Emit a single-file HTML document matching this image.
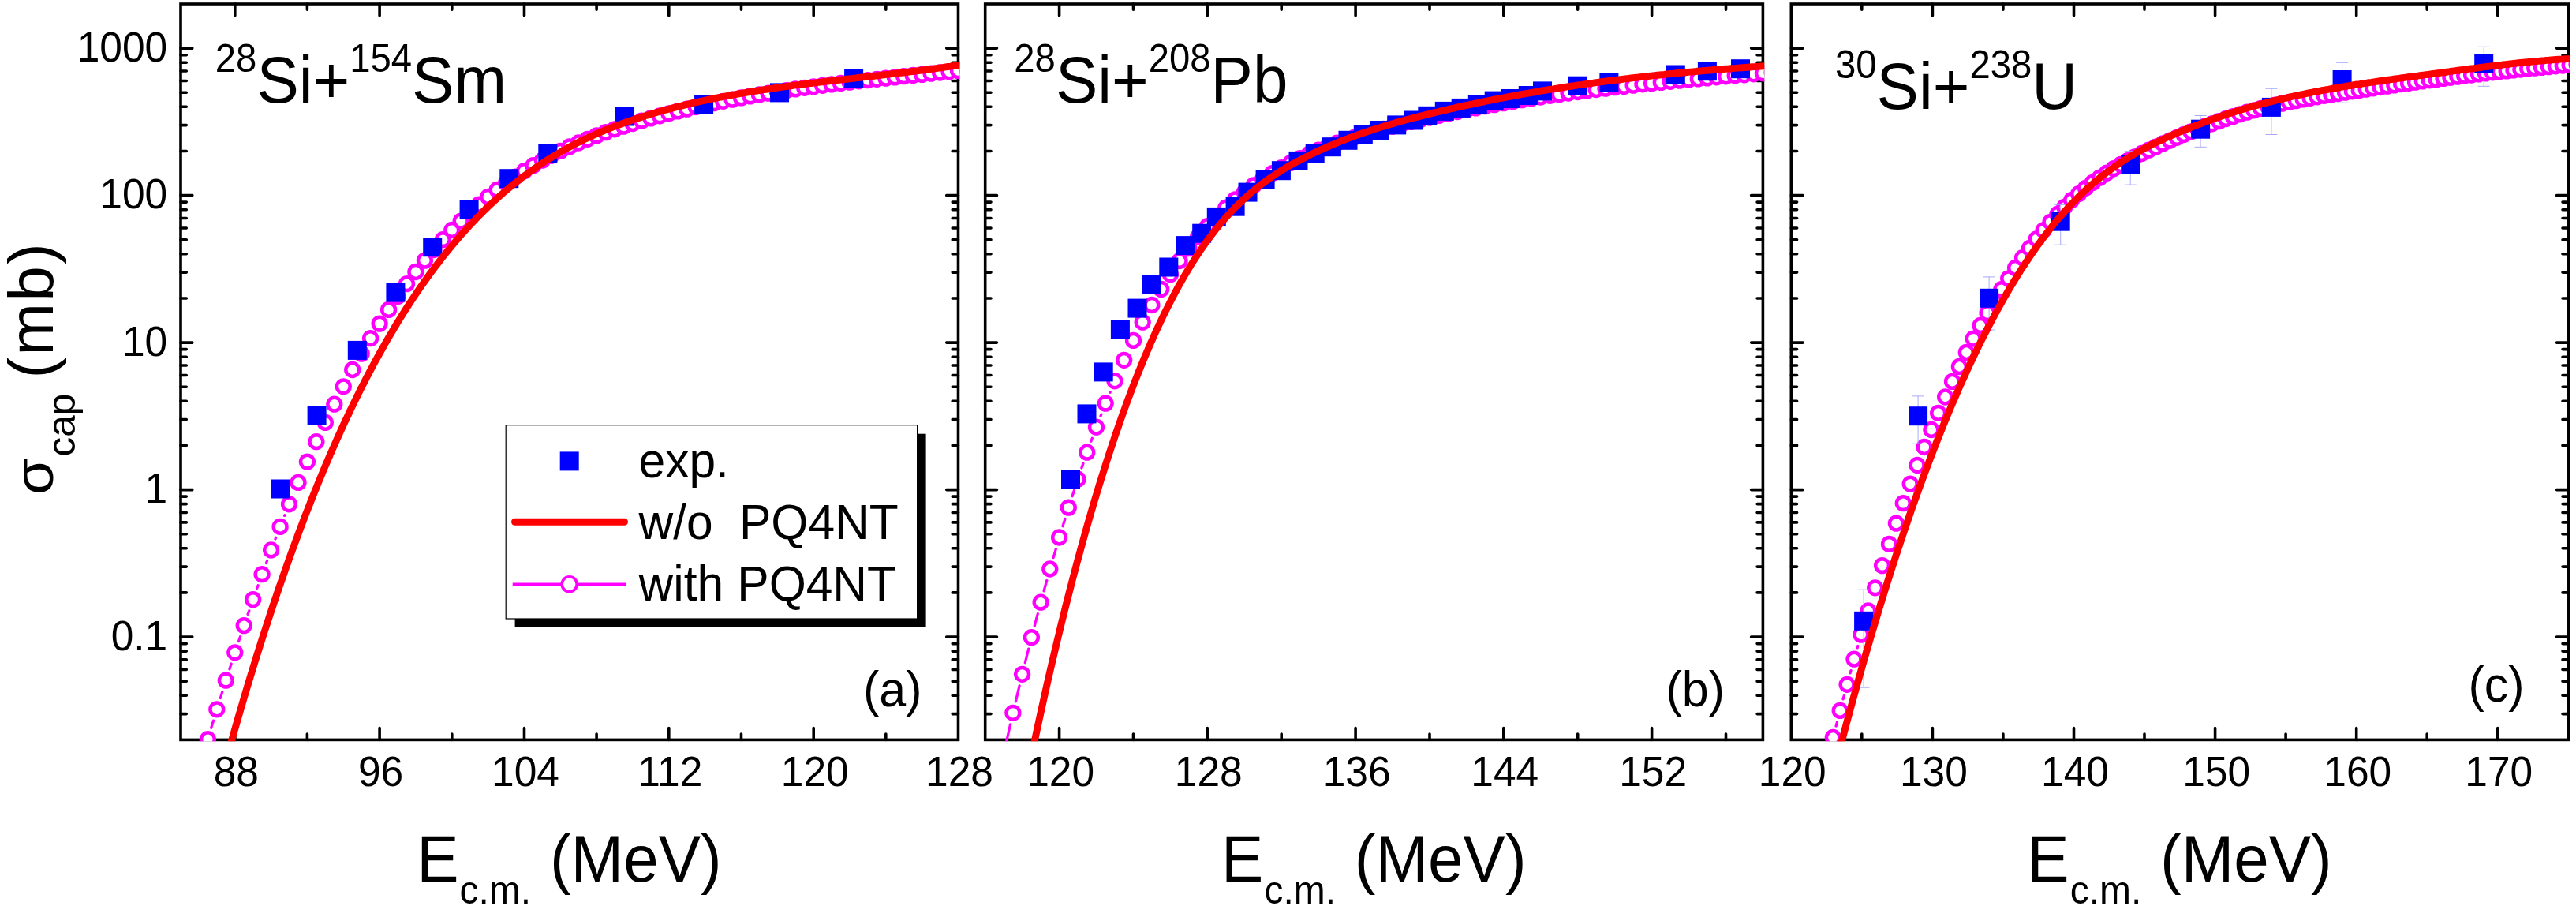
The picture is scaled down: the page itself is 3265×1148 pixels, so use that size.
<!DOCTYPE html>
<html><head><meta charset="utf-8"><title>capture cross sections</title>
<style>html,body{margin:0;padding:0;background:#fff}body{width:3265px;height:1148px;overflow:hidden;font-family:"Liberation Sans",sans-serif}svg{display:block}</style></head>
<body>
<svg width="3265" height="1148" viewBox="0 0 3265 1148" font-family="'Liberation Sans', sans-serif" fill="#000">
<rect width="3265" height="1148" fill="#fff"/>
<defs>
<clipPath id="cla"><rect x="227.2" y="3.2" width="989.1" height="936"/></clipPath>
<clipPath id="clb"><rect x="1246.9" y="3.2" width="989.3" height="936"/></clipPath>
<clipPath id="clc"><rect x="2268.5" y="3.2" width="988.6" height="936"/></clipPath>
</defs>
<path d="M297.8 937.4v-14.8M297.8 5v14.8M481.1 937.4v-14.8M481.1 5v14.8M664.5 937.4v-14.8M664.5 5v14.8M847.8 937.4v-14.8M847.8 5v14.8M1031.2 937.4v-14.8M1031.2 5v14.8M389.4 937.4v-7.3M389.4 5v7.3M572.8 937.4v-7.3M572.8 5v7.3M756.1 937.4v-7.3M756.1 5v7.3M939.5 937.4v-7.3M939.5 5v7.3M1122.8 937.4v-7.3M1122.8 5v7.3M229 904.6h7.3M1214.5 904.6h-7.3M229 881.3h7.3M1214.5 881.3h-7.3M229 863.2h7.3M1214.5 863.2h-7.3M229 848.4h7.3M1214.5 848.4h-7.3M229 835.9h7.3M1214.5 835.9h-7.3M229 825.1h7.3M1214.5 825.1h-7.3M229 815.6h7.3M1214.5 815.6h-7.3M229 807.1h14.8M1214.5 807.1h-14.8M229 750.9h7.3M1214.5 750.9h-7.3M229 718.1h7.3M1214.5 718.1h-7.3M229 694.8h7.3M1214.5 694.8h-7.3M229 676.7h7.3M1214.5 676.7h-7.3M229 661.9h7.3M1214.5 661.9h-7.3M229 649.5h7.3M1214.5 649.5h-7.3M229 638.6h7.3M1214.5 638.6h-7.3M229 629.1h7.3M1214.5 629.1h-7.3M229 620.6h14.8M1214.5 620.6h-14.8M229 564.4h7.3M1214.5 564.4h-7.3M229 531.6h7.3M1214.5 531.6h-7.3M229 508.3h7.3M1214.5 508.3h-7.3M229 490.2h7.3M1214.5 490.2h-7.3M229 475.5h7.3M1214.5 475.5h-7.3M229 463h7.3M1214.5 463h-7.3M229 452.2h7.3M1214.5 452.2h-7.3M229 442.6h7.3M1214.5 442.6h-7.3M229 434.1h14.8M1214.5 434.1h-14.8M229 378h7.3M1214.5 378h-7.3M229 345.1h7.3M1214.5 345.1h-7.3M229 321.8h7.3M1214.5 321.8h-7.3M229 303.8h7.3M1214.5 303.8h-7.3M229 289h7.3M1214.5 289h-7.3M229 276.5h7.3M1214.5 276.5h-7.3M229 265.7h7.3M1214.5 265.7h-7.3M229 256.1h7.3M1214.5 256.1h-7.3M229 247.6h14.8M1214.5 247.6h-14.8M229 191.5h7.3M1214.5 191.5h-7.3M229 158.6h7.3M1214.5 158.6h-7.3M229 135.3h7.3M1214.5 135.3h-7.3M229 117.3h7.3M1214.5 117.3h-7.3M229 102.5h7.3M1214.5 102.5h-7.3M229 90h7.3M1214.5 90h-7.3M229 79.2h7.3M1214.5 79.2h-7.3M229 69.7h7.3M1214.5 69.7h-7.3M229 61.1h14.8M1214.5 61.1h-14.8" stroke="#000" stroke-width="3.6" stroke-linecap="round" fill="none"/>
<rect x="229" y="5" width="985.5" height="932.4" fill="none" stroke="#000" stroke-width="3.6"/>
<g clip-path="url(#cla)">
<path d="M267.7 922.3L270.5 913.2M279.3 884.5L281.8 876.5M290.9 847.9L293.1 841.1M302.5 812.6L304.5 806.8M314.1 778.4L315.8 773.7M325.7 745.4L327.1 741.8M337.4 713.6L338.4 711M349 683L349.6 681.3M360.6 653.4L360.9 652.8" stroke="#f0f" stroke-width="3.3" stroke-linecap="round" fill="none"/>
<g fill="#fff" stroke="#f0f" stroke-width="4.5">
<circle cx="263.4" cy="936.7" r="8.4"/>
<circle cx="274.8" cy="898.8" r="8.4"/>
<circle cx="286.3" cy="862.2" r="8.4"/>
<circle cx="297.8" cy="826.8" r="8.4"/>
<circle cx="309.2" cy="792.6" r="8.4"/>
<circle cx="320.7" cy="759.6" r="8.4"/>
<circle cx="332.1" cy="727.7" r="8.4"/>
<circle cx="343.6" cy="697" r="8.4"/>
<circle cx="355.1" cy="667.4" r="8.4"/>
<circle cx="366.5" cy="638.8" r="8.4"/>
<circle cx="378" cy="611.4" r="8.4"/>
<circle cx="389.4" cy="585.1" r="8.4"/>
<circle cx="400.9" cy="559.7" r="8.4"/>
<circle cx="412.3" cy="535.4" r="8.4"/>
<circle cx="423.8" cy="512.2" r="8.4"/>
<circle cx="435.3" cy="489.8" r="8.4"/>
<circle cx="446.7" cy="468.5" r="8.4"/>
<circle cx="458.2" cy="448.1" r="8.4"/>
<circle cx="469.6" cy="428.6" r="8.4"/>
<circle cx="481.1" cy="410.1" r="8.4"/>
<circle cx="492.6" cy="392.4" r="8.4"/>
<circle cx="504" cy="375.6" r="8.4"/>
<circle cx="515.5" cy="359.6" r="8.4"/>
<circle cx="526.9" cy="344.5" r="8.4"/>
<circle cx="538.4" cy="330.1" r="8.4"/>
<circle cx="549.9" cy="316.5" r="8.4"/>
<circle cx="561.3" cy="303.7" r="8.4"/>
<circle cx="572.8" cy="291.5" r="8.4"/>
<circle cx="584.2" cy="280.1" r="8.4"/>
<circle cx="595.7" cy="269.2" r="8.4"/>
<circle cx="607.2" cy="259.1" r="8.4"/>
<circle cx="618.6" cy="249.5" r="8.4"/>
<circle cx="630.1" cy="240.5" r="8.4"/>
<circle cx="641.5" cy="232" r="8.4"/>
<circle cx="653" cy="224.1" r="8.4"/>
<circle cx="664.5" cy="216.7" r="8.4"/>
<circle cx="675.9" cy="209.7" r="8.4"/>
<circle cx="687.4" cy="203.2" r="8.4"/>
<circle cx="698.8" cy="197.1" r="8.4"/>
<circle cx="710.3" cy="191.4" r="8.4"/>
<circle cx="721.8" cy="186" r="8.4"/>
<circle cx="733.2" cy="181" r="8.4"/>
<circle cx="744.7" cy="176.3" r="8.4"/>
<circle cx="756.1" cy="171.9" r="8.4"/>
<circle cx="767.6" cy="167.7" r="8.4"/>
<circle cx="779" cy="163.8" r="8.4"/>
<circle cx="790.5" cy="160.1" r="8.4"/>
<circle cx="802" cy="156.5" r="8.4"/>
<circle cx="813.4" cy="153.1" r="8.4"/>
<circle cx="824.9" cy="149.9" r="8.4"/>
<circle cx="836.3" cy="146.8" r="8.4"/>
<circle cx="847.8" cy="143.8" r="8.4"/>
<circle cx="859.3" cy="140.9" r="8.4"/>
<circle cx="870.7" cy="138.2" r="8.4"/>
<circle cx="882.2" cy="135.5" r="8.4"/>
<circle cx="893.6" cy="133" r="8.4"/>
<circle cx="905.1" cy="130.6" r="8.4"/>
<circle cx="916.6" cy="128.3" r="8.4"/>
<circle cx="928" cy="126.1" r="8.4"/>
<circle cx="939.5" cy="123.9" r="8.4"/>
<circle cx="950.9" cy="121.9" r="8.4"/>
<circle cx="962.4" cy="120" r="8.4"/>
<circle cx="973.9" cy="118.1" r="8.4"/>
<circle cx="985.3" cy="116.3" r="8.4"/>
<circle cx="996.8" cy="114.6" r="8.4"/>
<circle cx="1008.2" cy="112.9" r="8.4"/>
<circle cx="1019.7" cy="111.3" r="8.4"/>
<circle cx="1031.2" cy="109.8" r="8.4"/>
<circle cx="1042.6" cy="108.3" r="8.4"/>
<circle cx="1054.1" cy="106.9" r="8.4"/>
<circle cx="1065.5" cy="105.5" r="8.4"/>
<circle cx="1077" cy="104.1" r="8.4"/>
<circle cx="1088.4" cy="102.8" r="8.4"/>
<circle cx="1099.9" cy="101.6" r="8.4"/>
<circle cx="1111.4" cy="100.3" r="8.4"/>
<circle cx="1122.8" cy="99.1" r="8.4"/>
<circle cx="1134.3" cy="97.9" r="8.4"/>
<circle cx="1145.7" cy="96.7" r="8.4"/>
<circle cx="1157.2" cy="95.5" r="8.4"/>
<circle cx="1168.7" cy="94.4" r="8.4"/>
<circle cx="1180.1" cy="93.2" r="8.4"/>
<circle cx="1191.6" cy="92" r="8.4"/>
<circle cx="1203" cy="90.8" r="8.4"/>
<circle cx="1214.5" cy="89.6" r="8.4"/>
<circle cx="1226" cy="88.4" r="8.4"/>
<circle cx="1237.4" cy="87.2" r="8.4"/>
</g>
<g fill="#00f">
<rect x="343.1" y="607.5" width="24" height="24"/>
<rect x="389.6" y="514.9" width="24" height="24"/>
<rect x="440.8" y="431.9" width="24" height="24"/>
<rect x="489.4" y="358.6" width="24" height="24"/>
<rect x="536.2" y="301.2" width="24" height="24"/>
<rect x="582.6" y="253.1" width="24" height="24"/>
<rect x="633.3" y="214.2" width="24" height="24"/>
<rect x="682.3" y="182" width="24" height="24"/>
<rect x="779.4" y="135.5" width="24" height="24"/>
<rect x="880.1" y="120.6" width="24" height="24"/>
<rect x="976" y="105.4" width="24" height="24"/>
<rect x="1070.1" y="88" width="24" height="24"/>
</g>
<polyline points="286.8,962.8 289.8,952 292.8,941.3 295.8,930.7 298.8,920.2 301.8,909.7 304.8,899.4 307.8,889.2 310.8,879.1 313.8,869 316.8,859.1 319.8,849.3 322.8,839.5 325.8,829.9 328.8,820.4 331.8,810.9 334.8,801.5 337.8,792.3 340.8,783.1 343.8,774 346.8,765 349.8,756.1 352.8,747.3 355.8,738.6 358.8,730 361.8,721.4 364.8,713 367.8,704.6 370.8,696.3 373.8,688.2 376.8,680.1 379.8,672 382.8,664.1 385.8,656.2 388.8,648.5 391.8,640.8 394.8,633.2 397.8,625.7 400.8,618.3 403.8,610.9 406.8,603.6 409.8,596.4 412.8,589.3 415.8,582.3 418.8,575.3 421.8,568.5 424.8,561.7 427.8,554.9 430.8,548.3 433.8,541.7 436.8,535.2 439.8,528.8 442.8,522.5 445.8,516.2 448.8,510 451.8,503.9 454.8,497.8 457.8,491.8 460.8,485.9 463.8,480.1 466.8,474.3 469.8,468.6 472.8,463 475.8,457.4 478.8,452 481.8,446.5 484.8,441.2 487.8,435.9 490.8,430.6 493.8,425.5 496.8,420.4 499.8,415.4 502.8,410.4 505.8,405.5 508.8,400.6 511.8,395.9 514.8,391.1 517.8,386.5 520.8,381.9 523.8,377.4 526.8,372.9 529.8,368.5 532.8,364.1 535.8,359.8 538.8,355.6 541.8,351.4 544.8,347.2 547.8,343.2 550.8,339.1 553.8,335.2 556.8,331.3 559.8,327.4 562.8,323.6 565.8,319.8 568.8,316.1 571.8,312.5 574.8,308.9 577.8,305.4 580.8,301.9 583.8,298.4 586.8,295 589.8,291.7 592.8,288.4 595.8,285.1 598.8,281.9 601.8,278.8 604.8,275.7 607.8,272.6 610.8,269.6 613.8,266.6 616.8,263.7 619.8,260.8 622.8,258 625.8,255.2 628.8,252.4 631.8,249.7 634.8,247.1 637.8,244.5 640.8,241.9 643.8,239.3 646.8,236.8 649.8,234.4 652.8,232 655.8,229.6 658.8,227.3 661.8,224.9 664.8,222.7 667.8,220.5 670.8,218.3 673.8,216.1 676.8,214 679.8,211.9 682.8,209.9 685.8,207.9 688.8,205.9 691.8,203.9 694.8,202 697.8,200.2 700.8,198.3 703.8,196.5 706.8,194.7 709.8,193 712.8,191.2 715.8,189.6 718.8,187.9 721.8,186.3 724.8,184.7 727.8,183.1 730.8,181.5 733.8,180 736.8,178.5 739.8,177.1 742.8,175.6 745.8,174.2 748.8,172.8 751.8,171.5 754.8,170.1 757.8,168.8 760.8,167.5 763.8,166.3 766.8,165 769.8,163.8 772.8,162.6 775.8,161.4 778.8,160.2 781.8,159.1 784.8,158 787.8,156.9 790.8,155.8 793.8,154.7 796.8,153.7 799.8,152.6 802.8,151.6 805.8,150.6 808.8,149.7 811.8,148.7 814.8,147.7 817.8,146.8 820.8,145.9 823.8,145 826.8,144.1 829.8,143.2 832.8,142.3 835.8,141.5 838.8,140.6 841.8,139.8 844.8,139 847.8,138.2 850.8,137.4 853.8,136.6 856.8,135.8 859.8,135.1 862.8,134.3 865.8,133.6 868.8,132.8 871.8,132.1 874.8,131.4 877.8,130.7 880.8,130 883.8,129.3 886.8,128.7 889.8,128 892.8,127.3 895.8,126.7 898.8,126.1 901.8,125.4 904.8,124.8 907.8,124.2 910.8,123.6 913.8,123 916.8,122.5 919.8,121.9 922.8,121.3 925.8,120.8 928.8,120.2 931.8,119.7 934.8,119.1 937.8,118.6 940.8,118.1 943.8,117.6 946.8,117.1 949.8,116.6 952.8,116.1 955.8,115.6 958.8,115.1 961.8,114.6 964.8,114.2 967.8,113.7 970.8,113.3 973.8,112.8 976.8,112.4 979.8,111.9 982.8,111.5 985.8,111.1 988.8,110.6 991.8,110.2 994.8,109.8 997.8,109.4 1000.8,109 1003.8,108.6 1006.8,108.2 1009.8,107.8 1012.8,107.4 1015.8,107 1018.8,106.7 1021.8,106.3 1024.8,105.9 1027.8,105.5 1030.8,105.2 1033.8,104.8 1036.8,104.4 1039.8,104.1 1042.8,103.7 1045.8,103.4 1048.8,103 1051.8,102.7 1054.8,102.3 1057.8,102 1060.8,101.6 1063.8,101.3 1066.8,100.9 1069.8,100.6 1072.8,100.2 1075.8,99.9 1078.8,99.6 1081.8,99.2 1084.8,98.9 1087.8,98.5 1090.8,98.2 1093.8,97.9 1096.8,97.5 1099.8,97.2 1102.8,96.8 1105.8,96.5 1108.8,96.2 1111.8,95.8 1114.8,95.5 1117.8,95.1 1120.8,94.8 1123.8,94.4 1126.8,94.1 1129.8,93.7 1132.8,93.4 1135.8,93 1138.8,92.7 1141.8,92.3 1144.8,92 1147.8,91.6 1150.8,91.2 1153.8,90.9 1156.8,90.5 1159.8,90.1 1162.8,89.8 1165.8,89.4 1168.8,89 1171.8,88.6 1174.8,88.2 1177.8,87.8 1180.8,87.4 1183.8,87 1186.8,86.6 1189.8,86.2 1192.8,85.8 1195.8,85.4 1198.8,84.9 1201.8,84.5 1204.8,84.1 1207.8,83.6 1210.8,83.2 1213.8,82.7 1216.8,82.3 1219.8,81.8 1222.8,81.3 1225.8,80.9 1228.8,80.4 1231.8,79.9 1234.8,79.4" fill="none" stroke="#f00" stroke-width="8.9" stroke-linejoin="round"/>
</g>
<text transform="translate(299.3,995.8) scale(1,1.045)" font-size="51.5" text-anchor="middle">88</text>
<text transform="translate(482.6,995.8) scale(1,1.045)" font-size="51.5" text-anchor="middle">96</text>
<text transform="translate(666,995.8) scale(1,1.045)" font-size="51.5" text-anchor="middle">104</text>
<text transform="translate(849.3,995.8) scale(1,1.045)" font-size="51.5" text-anchor="middle">112</text>
<text transform="translate(1032.7,995.8) scale(1,1.045)" font-size="51.5" text-anchor="middle">120</text>
<text transform="translate(1216,995.8) scale(1,1.045)" font-size="51.5" text-anchor="middle">128</text>
<text transform="translate(528.2,1117) scale(1,1.045)" font-size="80">E<tspan font-size="48" dx="1" dy="26.5">c.m.</tspan><tspan dx="1.5" dy="-26.5"> (MeV)</tspan></text>
<path d="M1342.6 937.4v-14.8M1342.6 5v14.8M1530.3 937.4v-14.8M1530.3 5v14.8M1718.1 937.4v-14.8M1718.1 5v14.8M1905.8 937.4v-14.8M1905.8 5v14.8M2093.6 937.4v-14.8M2093.6 5v14.8M1436.5 937.4v-7.3M1436.5 5v7.3M1624.2 937.4v-7.3M1624.2 5v7.3M1812 937.4v-7.3M1812 5v7.3M1999.7 937.4v-7.3M1999.7 5v7.3M2187.5 937.4v-7.3M2187.5 5v7.3M1248.7 904.6h7.3M2234.4 904.6h-7.3M1248.7 881.3h7.3M2234.4 881.3h-7.3M1248.7 863.2h7.3M2234.4 863.2h-7.3M1248.7 848.4h7.3M2234.4 848.4h-7.3M1248.7 835.9h7.3M2234.4 835.9h-7.3M1248.7 825.1h7.3M2234.4 825.1h-7.3M1248.7 815.6h7.3M2234.4 815.6h-7.3M1248.7 807.1h14.8M2234.4 807.1h-14.8M1248.7 750.9h7.3M2234.4 750.9h-7.3M1248.7 718.1h7.3M2234.4 718.1h-7.3M1248.7 694.8h7.3M2234.4 694.8h-7.3M1248.7 676.7h7.3M2234.4 676.7h-7.3M1248.7 661.9h7.3M2234.4 661.9h-7.3M1248.7 649.5h7.3M2234.4 649.5h-7.3M1248.7 638.6h7.3M2234.4 638.6h-7.3M1248.7 629.1h7.3M2234.4 629.1h-7.3M1248.7 620.6h14.8M2234.4 620.6h-14.8M1248.7 564.4h7.3M2234.4 564.4h-7.3M1248.7 531.6h7.3M2234.4 531.6h-7.3M1248.7 508.3h7.3M2234.4 508.3h-7.3M1248.7 490.2h7.3M2234.4 490.2h-7.3M1248.7 475.5h7.3M2234.4 475.5h-7.3M1248.7 463h7.3M2234.4 463h-7.3M1248.7 452.2h7.3M2234.4 452.2h-7.3M1248.7 442.6h7.3M2234.4 442.6h-7.3M1248.7 434.1h14.8M2234.4 434.1h-14.8M1248.7 378h7.3M2234.4 378h-7.3M1248.7 345.1h7.3M2234.4 345.1h-7.3M1248.7 321.8h7.3M2234.4 321.8h-7.3M1248.7 303.8h7.3M2234.4 303.8h-7.3M1248.7 289h7.3M2234.4 289h-7.3M1248.7 276.5h7.3M2234.4 276.5h-7.3M1248.7 265.7h7.3M2234.4 265.7h-7.3M1248.7 256.1h7.3M2234.4 256.1h-7.3M1248.7 247.6h14.8M2234.4 247.6h-14.8M1248.7 191.5h7.3M2234.4 191.5h-7.3M1248.7 158.6h7.3M2234.4 158.6h-7.3M1248.7 135.3h7.3M2234.4 135.3h-7.3M1248.7 117.3h7.3M2234.4 117.3h-7.3M1248.7 102.5h7.3M2234.4 102.5h-7.3M1248.7 90h7.3M2234.4 90h-7.3M1248.7 79.2h7.3M2234.4 79.2h-7.3M1248.7 69.7h7.3M2234.4 69.7h-7.3M1248.7 61.1h14.8M2234.4 61.1h-14.8" stroke="#000" stroke-width="3.6" stroke-linecap="round" fill="none"/>
<rect x="1248.7" y="5" width="985.7" height="932.4" fill="none" stroke="#000" stroke-width="3.6"/>
<g clip-path="url(#clb)">
<path d="M1275.5 940L1280.6 917.9M1287.4 888.7L1292.1 868.9M1299.3 839.7L1303.7 822.2M1311.2 793.1L1315.3 777.7M1323.1 748.8L1326.8 735.5M1335.1 706.6L1338.4 695.4M1347 666.7L1349.9 657.4M1359 628.8L1361.4 621.4M1370.9 593L1372.9 587.4M1382.9 559.2L1384.3 555.3M1395 527.3L1395.8 525.1M1407 497.3L1407.2 496.7" stroke="#f0f" stroke-width="3.3" stroke-linecap="round" fill="none"/>
<g fill="#fff" stroke="#f0f" stroke-width="4.5">
<circle cx="1283.9" cy="903.3" r="8.4"/>
<circle cx="1295.6" cy="854.3" r="8.4"/>
<circle cx="1307.4" cy="807.6" r="8.4"/>
<circle cx="1319.1" cy="763.2" r="8.4"/>
<circle cx="1330.8" cy="721" r="8.4"/>
<circle cx="1342.6" cy="681" r="8.4"/>
<circle cx="1354.3" cy="643.1" r="8.4"/>
<circle cx="1366" cy="607.2" r="8.4"/>
<circle cx="1377.8" cy="573.2" r="8.4"/>
<circle cx="1389.5" cy="541.2" r="8.4"/>
<circle cx="1401.2" cy="511.1" r="8.4"/>
<circle cx="1413" cy="482.8" r="8.4"/>
<circle cx="1424.7" cy="456.3" r="8.4"/>
<circle cx="1436.5" cy="431.4" r="8.4"/>
<circle cx="1448.2" cy="408.2" r="8.4"/>
<circle cx="1459.9" cy="386.5" r="8.4"/>
<circle cx="1471.7" cy="366.4" r="8.4"/>
<circle cx="1483.4" cy="347.8" r="8.4"/>
<circle cx="1495.1" cy="330.5" r="8.4"/>
<circle cx="1506.9" cy="314.6" r="8.4"/>
<circle cx="1518.6" cy="300" r="8.4"/>
<circle cx="1530.3" cy="286.7" r="8.4"/>
<circle cx="1542.1" cy="274.4" r="8.4"/>
<circle cx="1553.8" cy="263.2" r="8.4"/>
<circle cx="1565.5" cy="252.9" r="8.4"/>
<circle cx="1577.3" cy="243.5" r="8.4"/>
<circle cx="1589" cy="234.9" r="8.4"/>
<circle cx="1600.7" cy="226.9" r="8.4"/>
<circle cx="1612.5" cy="219.6" r="8.4"/>
<circle cx="1624.2" cy="212.7" r="8.4"/>
<circle cx="1635.9" cy="206.4" r="8.4"/>
<circle cx="1647.7" cy="200.6" r="8.4"/>
<circle cx="1659.4" cy="195.1" r="8.4"/>
<circle cx="1671.1" cy="190.1" r="8.4"/>
<circle cx="1682.9" cy="185.4" r="8.4"/>
<circle cx="1694.6" cy="181.1" r="8.4"/>
<circle cx="1706.3" cy="177.1" r="8.4"/>
<circle cx="1718.1" cy="173.3" r="8.4"/>
<circle cx="1729.8" cy="169.8" r="8.4"/>
<circle cx="1741.6" cy="166.4" r="8.4"/>
<circle cx="1753.3" cy="163.3" r="8.4"/>
<circle cx="1765" cy="160.2" r="8.4"/>
<circle cx="1776.8" cy="157.3" r="8.4"/>
<circle cx="1788.5" cy="154.4" r="8.4"/>
<circle cx="1800.2" cy="151.7" r="8.4"/>
<circle cx="1812" cy="149" r="8.4"/>
<circle cx="1823.7" cy="146.4" r="8.4"/>
<circle cx="1835.4" cy="143.9" r="8.4"/>
<circle cx="1847.2" cy="141.5" r="8.4"/>
<circle cx="1858.9" cy="139.2" r="8.4"/>
<circle cx="1870.6" cy="136.9" r="8.4"/>
<circle cx="1882.4" cy="134.7" r="8.4"/>
<circle cx="1894.1" cy="132.6" r="8.4"/>
<circle cx="1905.8" cy="130.6" r="8.4"/>
<circle cx="1917.6" cy="128.6" r="8.4"/>
<circle cx="1929.3" cy="126.7" r="8.4"/>
<circle cx="1941" cy="124.8" r="8.4"/>
<circle cx="1952.8" cy="123" r="8.4"/>
<circle cx="1964.5" cy="121.3" r="8.4"/>
<circle cx="1976.2" cy="119.7" r="8.4"/>
<circle cx="1988" cy="118" r="8.4"/>
<circle cx="1999.7" cy="116.5" r="8.4"/>
<circle cx="2011.4" cy="115" r="8.4"/>
<circle cx="2023.2" cy="113.5" r="8.4"/>
<circle cx="2034.9" cy="112.1" r="8.4"/>
<circle cx="2046.6" cy="110.7" r="8.4"/>
<circle cx="2058.4" cy="109.4" r="8.4"/>
<circle cx="2070.1" cy="108.1" r="8.4"/>
<circle cx="2081.9" cy="106.8" r="8.4"/>
<circle cx="2093.6" cy="105.6" r="8.4"/>
<circle cx="2105.3" cy="104.4" r="8.4"/>
<circle cx="2117.1" cy="103.3" r="8.4"/>
<circle cx="2128.8" cy="102.1" r="8.4"/>
<circle cx="2140.5" cy="101" r="8.4"/>
<circle cx="2152.3" cy="99.9" r="8.4"/>
<circle cx="2164" cy="98.9" r="8.4"/>
<circle cx="2175.7" cy="97.8" r="8.4"/>
<circle cx="2187.5" cy="96.8" r="8.4"/>
<circle cx="2199.2" cy="95.8" r="8.4"/>
<circle cx="2210.9" cy="94.8" r="8.4"/>
<circle cx="2222.7" cy="93.8" r="8.4"/>
<circle cx="2234.4" cy="92.8" r="8.4"/>
<circle cx="2246.1" cy="91.9" r="8.4"/>
<circle cx="2257.9" cy="90.9" r="8.4"/>
</g>
<g fill="#00f">
<rect x="1345" y="595.5" width="24" height="24"/>
<rect x="1365.5" y="512.4" width="24" height="24"/>
<rect x="1386.7" y="459.4" width="24" height="24"/>
<rect x="1407.9" y="405.5" width="24" height="24"/>
<rect x="1429.5" y="378.6" width="24" height="24"/>
<rect x="1447.6" y="348.6" width="24" height="24"/>
<rect x="1469.3" y="326.5" width="24" height="24"/>
<rect x="1490" y="299.1" width="24" height="24"/>
<rect x="1511.2" y="283.7" width="24" height="24"/>
<rect x="1529.8" y="262.9" width="24" height="24"/>
<rect x="1553.6" y="249.7" width="24" height="24"/>
<rect x="1569.5" y="231.6" width="24" height="24"/>
<rect x="1591.6" y="215.7" width="24" height="24"/>
<rect x="1611.9" y="204.2" width="24" height="24"/>
<rect x="1633.5" y="191.9" width="24" height="24"/>
<rect x="1654.7" y="182.2" width="24" height="24"/>
<rect x="1675.9" y="174.2" width="24" height="24"/>
<rect x="1696.5" y="165.8" width="24" height="24"/>
<rect x="1715.8" y="158.8" width="24" height="24"/>
<rect x="1736.7" y="153" width="24" height="24"/>
<rect x="1758.2" y="146.4" width="24" height="24"/>
<rect x="1779.1" y="140.5" width="24" height="24"/>
<rect x="1797.3" y="134.8" width="24" height="24"/>
<rect x="1818.8" y="128.9" width="24" height="24"/>
<rect x="1839.7" y="124.9" width="24" height="24"/>
<rect x="1860.8" y="120.6" width="24" height="24"/>
<rect x="1881.7" y="115.6" width="24" height="24"/>
<rect x="1902.6" y="113" width="24" height="24"/>
<rect x="1924.8" y="109" width="24" height="24"/>
<rect x="1943" y="103.4" width="24" height="24"/>
<rect x="1987.7" y="96.7" width="24" height="24"/>
<rect x="2027.4" y="92.4" width="24" height="24"/>
<rect x="2111.8" y="82.5" width="24" height="24"/>
<rect x="2151.9" y="78.2" width="24" height="24"/>
<rect x="2194" y="75.2" width="24" height="24"/>
</g>
<polyline points="1305.5,966.5 1308.5,952.2 1311.5,938 1314.5,924.1 1317.5,910.2 1320.5,896.6 1323.5,883.1 1326.5,869.8 1329.5,856.6 1332.5,843.6 1335.5,830.8 1338.5,818.2 1341.5,805.7 1344.5,793.3 1347.5,781.2 1350.5,769.1 1353.5,757.3 1356.5,745.6 1359.5,734 1362.5,722.6 1365.5,711.4 1368.5,700.3 1371.5,689.4 1374.5,678.6 1377.5,668 1380.5,657.5 1383.5,647.2 1386.5,637 1389.5,627 1392.5,617.1 1395.5,607.4 1398.5,597.8 1401.5,588.3 1404.5,579 1407.5,569.8 1410.5,560.8 1413.5,551.9 1416.5,543.2 1419.5,534.6 1422.5,526.1 1425.5,517.7 1428.5,509.5 1431.5,501.5 1434.5,493.5 1437.5,485.7 1440.5,478.1 1443.5,470.5 1446.5,463.1 1449.5,455.8 1452.5,448.7 1455.5,441.7 1458.5,434.8 1461.5,428 1464.5,421.3 1467.5,414.8 1470.5,408.4 1473.5,402.1 1476.5,395.9 1479.5,389.9 1482.5,384 1485.5,378.2 1488.5,372.5 1491.5,366.9 1494.5,361.4 1497.5,356.1 1500.5,350.8 1503.5,345.7 1506.5,340.7 1509.5,335.8 1512.5,331 1515.5,326.3 1518.5,321.7 1521.5,317.3 1524.5,312.9 1527.5,308.6 1530.5,304.5 1533.5,300.4 1536.5,296.5 1539.5,292.6 1542.5,288.8 1545.5,285.2 1548.5,281.6 1551.5,278.1 1554.5,274.7 1557.5,271.4 1560.5,268.2 1563.5,265 1566.5,261.9 1569.5,259 1572.5,256.1 1575.5,253.2 1578.5,250.5 1581.5,247.8 1584.5,245.1 1587.5,242.6 1590.5,240.1 1593.5,237.7 1596.5,235.3 1599.5,233 1602.5,230.8 1605.5,228.6 1608.5,226.5 1611.5,224.4 1614.5,222.4 1617.5,220.4 1620.5,218.4 1623.5,216.6 1626.5,214.7 1629.5,212.9 1632.5,211.1 1635.5,209.4 1638.5,207.7 1641.5,206.1 1644.5,204.4 1647.5,202.9 1650.5,201.3 1653.5,199.8 1656.5,198.2 1659.5,196.7 1662.5,195.3 1665.5,193.8 1668.5,192.4 1671.5,191 1674.5,189.6 1677.5,188.3 1680.5,187 1683.5,185.6 1686.5,184.3 1689.5,183.1 1692.5,181.8 1695.5,180.6 1698.5,179.4 1701.5,178.2 1704.5,177 1707.5,175.9 1710.5,174.7 1713.5,173.6 1716.5,172.5 1719.5,171.4 1722.5,170.3 1725.5,169.3 1728.5,168.2 1731.5,167.2 1734.5,166.2 1737.5,165.2 1740.5,164.2 1743.5,163.3 1746.5,162.3 1749.5,161.4 1752.5,160.4 1755.5,159.5 1758.5,158.6 1761.5,157.7 1764.5,156.9 1767.5,156 1770.5,155.1 1773.5,154.3 1776.5,153.5 1779.5,152.6 1782.5,151.8 1785.5,151 1788.5,150.2 1791.5,149.4 1794.5,148.7 1797.5,147.9 1800.5,147.1 1803.5,146.4 1806.5,145.6 1809.5,144.9 1812.5,144.1 1815.5,143.4 1818.5,142.7 1821.5,142 1824.5,141.2 1827.5,140.5 1830.5,139.8 1833.5,139.1 1836.5,138.4 1839.5,137.7 1842.5,137.1 1845.5,136.4 1848.5,135.7 1851.5,135 1854.5,134.4 1857.5,133.7 1860.5,133.1 1863.5,132.4 1866.5,131.8 1869.5,131.1 1872.5,130.5 1875.5,129.9 1878.5,129.3 1881.5,128.6 1884.5,128 1887.5,127.4 1890.5,126.8 1893.5,126.2 1896.5,125.6 1899.5,125 1902.5,124.4 1905.5,123.9 1908.5,123.3 1911.5,122.7 1914.5,122.2 1917.5,121.6 1920.5,121 1923.5,120.5 1926.5,119.9 1929.5,119.4 1932.5,118.9 1935.5,118.3 1938.5,117.8 1941.5,117.3 1944.5,116.8 1947.5,116.2 1950.5,115.7 1953.5,115.2 1956.5,114.7 1959.5,114.2 1962.5,113.7 1965.5,113.2 1968.5,112.8 1971.5,112.3 1974.5,111.8 1977.5,111.3 1980.5,110.9 1983.5,110.4 1986.5,109.9 1989.5,109.5 1992.5,109 1995.5,108.6 1998.5,108.1 2001.5,107.7 2004.5,107.3 2007.5,106.8 2010.5,106.4 2013.5,106 2016.5,105.6 2019.5,105.2 2022.5,104.7 2025.5,104.3 2028.5,103.9 2031.5,103.5 2034.5,103.1 2037.5,102.7 2040.5,102.3 2043.5,102 2046.5,101.6 2049.5,101.2 2052.5,100.8 2055.5,100.5 2058.5,100.1 2061.5,99.7 2064.5,99.4 2067.5,99 2070.5,98.6 2073.5,98.3 2076.5,98 2079.5,97.6 2082.5,97.3 2085.5,96.9 2088.5,96.6 2091.5,96.3 2094.5,95.9 2097.5,95.6 2100.5,95.3 2103.5,95 2106.5,94.7 2109.5,94.4 2112.5,94 2115.5,93.7 2118.5,93.4 2121.5,93.1 2124.5,92.8 2127.5,92.5 2130.5,92.3 2133.5,92 2136.5,91.7 2139.5,91.4 2142.5,91.1 2145.5,90.9 2148.5,90.6 2151.5,90.3 2154.5,90 2157.5,89.8 2160.5,89.5 2163.5,89.3 2166.5,89 2169.5,88.8 2172.5,88.5 2175.5,88.3 2178.5,88 2181.5,87.8 2184.5,87.5 2187.5,87.3 2190.5,87.1 2193.5,86.8 2196.5,86.6 2199.5,86.4 2202.5,86.1 2205.5,85.9 2208.5,85.7 2211.5,85.5 2214.5,85.3 2217.5,85 2220.5,84.8 2223.5,84.6 2226.5,84.4 2229.5,84.2 2232.5,84 2235.5,83.8 2238.5,83.6 2241.5,83.4 2244.5,83.2 2247.5,83 2250.5,82.8 2253.5,82.7" fill="none" stroke="#f00" stroke-width="8.9" stroke-linejoin="round"/>
</g>
<text transform="translate(1344.1,995.8) scale(1,1.045)" font-size="51.5" text-anchor="middle">120</text>
<text transform="translate(1531.8,995.8) scale(1,1.045)" font-size="51.5" text-anchor="middle">128</text>
<text transform="translate(1719.6,995.8) scale(1,1.045)" font-size="51.5" text-anchor="middle">136</text>
<text transform="translate(1907.3,995.8) scale(1,1.045)" font-size="51.5" text-anchor="middle">144</text>
<text transform="translate(2095.1,995.8) scale(1,1.045)" font-size="51.5" text-anchor="middle">152</text>
<text transform="translate(1548.1,1117) scale(1,1.045)" font-size="80">E<tspan font-size="48" dx="1" dy="26.5">c.m.</tspan><tspan dx="1.5" dy="-26.5"> (MeV)</tspan></text>
<path d="M2449.4 937.4v-14.8M2449.4 5v14.8M2628.5 937.4v-14.8M2628.5 5v14.8M2807.6 937.4v-14.8M2807.6 5v14.8M2986.7 937.4v-14.8M2986.7 5v14.8M3165.8 937.4v-14.8M3165.8 5v14.8M2359.8 937.4v-7.3M2359.8 5v7.3M2538.9 937.4v-7.3M2538.9 5v7.3M2718 937.4v-7.3M2718 5v7.3M2897.1 937.4v-7.3M2897.1 5v7.3M3076.2 937.4v-7.3M3076.2 5v7.3M2270.3 904.6h7.3M3255.3 904.6h-7.3M2270.3 881.3h7.3M3255.3 881.3h-7.3M2270.3 863.2h7.3M3255.3 863.2h-7.3M2270.3 848.4h7.3M3255.3 848.4h-7.3M2270.3 835.9h7.3M3255.3 835.9h-7.3M2270.3 825.1h7.3M3255.3 825.1h-7.3M2270.3 815.6h7.3M3255.3 815.6h-7.3M2270.3 807.1h14.8M3255.3 807.1h-14.8M2270.3 750.9h7.3M3255.3 750.9h-7.3M2270.3 718.1h7.3M3255.3 718.1h-7.3M2270.3 694.8h7.3M3255.3 694.8h-7.3M2270.3 676.7h7.3M3255.3 676.7h-7.3M2270.3 661.9h7.3M3255.3 661.9h-7.3M2270.3 649.5h7.3M3255.3 649.5h-7.3M2270.3 638.6h7.3M3255.3 638.6h-7.3M2270.3 629.1h7.3M3255.3 629.1h-7.3M2270.3 620.6h14.8M3255.3 620.6h-14.8M2270.3 564.4h7.3M3255.3 564.4h-7.3M2270.3 531.6h7.3M3255.3 531.6h-7.3M2270.3 508.3h7.3M3255.3 508.3h-7.3M2270.3 490.2h7.3M3255.3 490.2h-7.3M2270.3 475.5h7.3M3255.3 475.5h-7.3M2270.3 463h7.3M3255.3 463h-7.3M2270.3 452.2h7.3M3255.3 452.2h-7.3M2270.3 442.6h7.3M3255.3 442.6h-7.3M2270.3 434.1h14.8M3255.3 434.1h-14.8M2270.3 378h7.3M3255.3 378h-7.3M2270.3 345.1h7.3M3255.3 345.1h-7.3M2270.3 321.8h7.3M3255.3 321.8h-7.3M2270.3 303.8h7.3M3255.3 303.8h-7.3M2270.3 289h7.3M3255.3 289h-7.3M2270.3 276.5h7.3M3255.3 276.5h-7.3M2270.3 265.7h7.3M3255.3 265.7h-7.3M2270.3 256.1h7.3M3255.3 256.1h-7.3M2270.3 247.6h14.8M3255.3 247.6h-14.8M2270.3 191.5h7.3M3255.3 191.5h-7.3M2270.3 158.6h7.3M3255.3 158.6h-7.3M2270.3 135.3h7.3M3255.3 135.3h-7.3M2270.3 117.3h7.3M3255.3 117.3h-7.3M2270.3 102.5h7.3M3255.3 102.5h-7.3M2270.3 90h7.3M3255.3 90h-7.3M2270.3 79.2h7.3M3255.3 79.2h-7.3M2270.3 69.7h7.3M3255.3 69.7h-7.3M2270.3 61.1h14.8M3255.3 61.1h-14.8" stroke="#000" stroke-width="3.6" stroke-linecap="round" fill="none"/>
<rect x="2270.3" y="5" width="985" height="932.4" fill="none" stroke="#000" stroke-width="3.6"/>
<g clip-path="url(#clc)">
<path d="M2318.1 955.1L2319.7 949M2327.1 920L2328.5 914.9M2336.1 885.9L2337.2 881.7M2345.1 852.8L2346 849.6M2354.2 820.8L2354.8 818.5M2363.2 789.7L2363.6 788.4" stroke="#f0f" stroke-width="3.3" stroke-linecap="round" fill="none"/>
<g fill="#fff" stroke="#f0f" stroke-width="4.5">
<circle cx="2323.3" cy="934.5" r="8.4"/>
<circle cx="2332.2" cy="900.4" r="8.4"/>
<circle cx="2341.1" cy="867.3" r="8.4"/>
<circle cx="2350" cy="835.2" r="8.4"/>
<circle cx="2358.9" cy="804.1" r="8.4"/>
<circle cx="2367.8" cy="774" r="8.4"/>
<circle cx="2376.7" cy="744.8" r="8.4"/>
<circle cx="2385.6" cy="716.6" r="8.4"/>
<circle cx="2394.5" cy="689.4" r="8.4"/>
<circle cx="2403.4" cy="663.1" r="8.4"/>
<circle cx="2412.3" cy="637.6" r="8.4"/>
<circle cx="2421.2" cy="613.1" r="8.4"/>
<circle cx="2430.1" cy="589.4" r="8.4"/>
<circle cx="2439" cy="566.5" r="8.4"/>
<circle cx="2447.9" cy="544.5" r="8.4"/>
<circle cx="2456.7" cy="523.4" r="8.4"/>
<circle cx="2465.6" cy="503" r="8.4"/>
<circle cx="2474.5" cy="483.4" r="8.4"/>
<circle cx="2483.4" cy="464.5" r="8.4"/>
<circle cx="2492.3" cy="446.5" r="8.4"/>
<circle cx="2501.2" cy="429.1" r="8.4"/>
<circle cx="2510.1" cy="412.5" r="8.4"/>
<circle cx="2519" cy="396.6" r="8.4"/>
<circle cx="2527.9" cy="381.3" r="8.4"/>
<circle cx="2536.8" cy="366.7" r="8.4"/>
<circle cx="2545.7" cy="352.8" r="8.4"/>
<circle cx="2554.6" cy="339.4" r="8.4"/>
<circle cx="2563.5" cy="326.7" r="8.4"/>
<circle cx="2572.4" cy="314.5" r="8.4"/>
<circle cx="2581.2" cy="302.9" r="8.4"/>
<circle cx="2590.1" cy="291.8" r="8.4"/>
<circle cx="2599" cy="281.4" r="8.4"/>
<circle cx="2607.9" cy="271.5" r="8.4"/>
<circle cx="2616.8" cy="262.3" r="8.4"/>
<circle cx="2625.7" cy="253.6" r="8.4"/>
<circle cx="2634.6" cy="245.7" r="8.4"/>
<circle cx="2643.5" cy="238.3" r="8.4"/>
<circle cx="2652.4" cy="231.4" r="8.4"/>
<circle cx="2661.3" cy="225.1" r="8.4"/>
<circle cx="2670.2" cy="219.2" r="8.4"/>
<circle cx="2679.1" cy="213.7" r="8.4"/>
<circle cx="2688" cy="208.5" r="8.4"/>
<circle cx="2696.9" cy="203.6" r="8.4"/>
<circle cx="2705.7" cy="199" r="8.4"/>
<circle cx="2714.6" cy="194.5" r="8.4"/>
<circle cx="2723.5" cy="190.2" r="8.4"/>
<circle cx="2732.4" cy="186.1" r="8.4"/>
<circle cx="2741.3" cy="182" r="8.4"/>
<circle cx="2750.2" cy="178.1" r="8.4"/>
<circle cx="2759.1" cy="174.3" r="8.4"/>
<circle cx="2768" cy="170.5" r="8.4"/>
<circle cx="2776.9" cy="166.9" r="8.4"/>
<circle cx="2785.8" cy="163.5" r="8.4"/>
<circle cx="2794.7" cy="160.1" r="8.4"/>
<circle cx="2803.6" cy="156.8" r="8.4"/>
<circle cx="2812.5" cy="153.6" r="8.4"/>
<circle cx="2821.4" cy="150.5" r="8.4"/>
<circle cx="2830.3" cy="147.6" r="8.4"/>
<circle cx="2839.1" cy="144.8" r="8.4"/>
<circle cx="2848" cy="142.2" r="8.4"/>
<circle cx="2856.9" cy="139.8" r="8.4"/>
<circle cx="2865.8" cy="137.4" r="8.4"/>
<circle cx="2874.7" cy="135.2" r="8.4"/>
<circle cx="2883.6" cy="133.2" r="8.4"/>
<circle cx="2892.5" cy="131.2" r="8.4"/>
<circle cx="2901.4" cy="129.4" r="8.4"/>
<circle cx="2910.3" cy="127.6" r="8.4"/>
<circle cx="2919.2" cy="125.9" r="8.4"/>
<circle cx="2928.1" cy="124.3" r="8.4"/>
<circle cx="2937" cy="122.8" r="8.4"/>
<circle cx="2945.9" cy="121.3" r="8.4"/>
<circle cx="2954.8" cy="119.9" r="8.4"/>
<circle cx="2963.6" cy="118.5" r="8.4"/>
<circle cx="2972.5" cy="117.1" r="8.4"/>
<circle cx="2981.4" cy="115.8" r="8.4"/>
<circle cx="2990.3" cy="114.4" r="8.4"/>
<circle cx="2999.2" cy="113.1" r="8.4"/>
<circle cx="3008.1" cy="111.8" r="8.4"/>
<circle cx="3017" cy="110.5" r="8.4"/>
<circle cx="3025.9" cy="109.2" r="8.4"/>
<circle cx="3034.8" cy="107.9" r="8.4"/>
<circle cx="3043.7" cy="106.6" r="8.4"/>
<circle cx="3052.6" cy="105.4" r="8.4"/>
<circle cx="3061.5" cy="104.2" r="8.4"/>
<circle cx="3070.4" cy="102.9" r="8.4"/>
<circle cx="3079.3" cy="101.8" r="8.4"/>
<circle cx="3088.1" cy="100.6" r="8.4"/>
<circle cx="3097" cy="99.4" r="8.4"/>
<circle cx="3105.9" cy="98.3" r="8.4"/>
<circle cx="3114.8" cy="97.1" r="8.4"/>
<circle cx="3123.7" cy="96" r="8.4"/>
<circle cx="3132.6" cy="95" r="8.4"/>
<circle cx="3141.5" cy="93.9" r="8.4"/>
<circle cx="3150.4" cy="92.9" r="8.4"/>
<circle cx="3159.3" cy="91.8" r="8.4"/>
<circle cx="3168.2" cy="90.8" r="8.4"/>
<circle cx="3177.1" cy="89.9" r="8.4"/>
<circle cx="3186" cy="88.9" r="8.4"/>
<circle cx="3194.9" cy="88" r="8.4"/>
<circle cx="3203.8" cy="87.1" r="8.4"/>
<circle cx="3212.7" cy="86.2" r="8.4"/>
<circle cx="3221.5" cy="85.4" r="8.4"/>
<circle cx="3230.4" cy="84.6" r="8.4"/>
<circle cx="3239.3" cy="83.8" r="8.4"/>
<circle cx="3248.2" cy="83" r="8.4"/>
<circle cx="3257.1" cy="82.3" r="8.4"/>
<circle cx="3266" cy="81.6" r="8.4"/>
<circle cx="3274.9" cy="80.9" r="8.4"/>
</g>
<path d="M2362.1 747.2V871.2M2354.6 747.2H2369.6M2354.6 871.2H2369.6M2431.1 501.9V562.3M2423.6 501.9H2438.6M2423.6 562.3H2438.6M2521.1 350.9V418M2513.6 350.9H2528.6M2513.6 418H2528.6M2611.7 259.4V310.2M2604.2 259.4H2619.2M2604.2 310.2H2619.2M2700.2 191.6V234.1M2692.7 191.6H2707.7M2692.7 234.1H2707.7M2789.1 146.5V186.3M2781.6 146.5H2796.6M2781.6 186.3H2796.6M2878.9 112.3V170.5M2871.4 112.3H2886.4M2871.4 170.5H2886.4M2968.6 79.3V130.2M2961.1 79.3H2976.1M2961.1 130.2H2976.1M3148.2 59.3V109.3M3140.7 59.3H3155.7M3140.7 109.3H3155.7" stroke="#a0a0f8" stroke-width="0.9" fill="none"/>
<g fill="#00f">
<rect x="2350.1" y="774.8" width="24" height="24"/>
<rect x="2419.1" y="515.2" width="24" height="24"/>
<rect x="2509.1" y="365.8" width="24" height="24"/>
<rect x="2599.7" y="268.7" width="24" height="24"/>
<rect x="2688.2" y="197" width="24" height="24"/>
<rect x="2777.1" y="151.7" width="24" height="24"/>
<rect x="2866.9" y="123.9" width="24" height="24"/>
<rect x="2956.6" y="89" width="24" height="24"/>
<rect x="3136.2" y="68.7" width="24" height="24"/>
</g>
<polyline points="2327.8,964.6 2330.8,953.1 2333.8,941.6 2336.8,930.2 2339.8,918.9 2342.8,907.7 2345.8,896.7 2348.8,885.7 2351.8,874.8 2354.8,864 2357.8,853.4 2360.8,842.8 2363.8,832.3 2366.8,821.9 2369.8,811.7 2372.8,801.5 2375.8,791.4 2378.8,781.4 2381.8,771.5 2384.8,761.7 2387.8,752 2390.8,742.4 2393.8,732.9 2396.8,723.5 2399.8,714.2 2402.8,704.9 2405.8,695.8 2408.8,686.8 2411.8,677.8 2414.8,669 2417.8,660.2 2420.8,651.5 2423.8,642.9 2426.8,634.5 2429.8,626.1 2432.8,617.8 2435.8,609.5 2438.8,601.4 2441.8,593.4 2444.8,585.4 2447.8,577.6 2450.8,569.8 2453.8,562.1 2456.8,554.5 2459.8,547 2462.8,539.6 2465.8,532.3 2468.8,525.1 2471.8,517.9 2474.8,510.8 2477.8,503.9 2480.8,497 2483.8,490.1 2486.8,483.4 2489.8,476.8 2492.8,470.2 2495.8,463.7 2498.8,457.3 2501.8,451 2504.8,444.8 2507.8,438.6 2510.8,432.6 2513.8,426.6 2516.8,420.7 2519.8,414.9 2522.8,409.1 2525.8,403.5 2528.8,397.9 2531.8,392.4 2534.8,387 2537.8,381.6 2540.8,376.4 2543.8,371.2 2546.8,366.1 2549.8,361 2552.8,356.1 2555.8,351.2 2558.8,346.4 2561.8,341.7 2564.8,337 2567.8,332.5 2570.8,328 2573.8,323.5 2576.8,319.2 2579.8,314.9 2582.8,310.7 2585.8,306.6 2588.8,302.5 2591.8,298.5 2594.8,294.6 2597.8,290.8 2600.8,287 2603.8,283.3 2606.8,279.7 2609.8,276.1 2612.8,272.6 2615.8,269.2 2618.8,265.9 2621.8,262.6 2624.8,259.4 2627.8,256.2 2630.8,253.1 2633.8,250.1 2636.8,247.2 2639.8,244.3 2642.8,241.5 2645.8,238.7 2648.8,236 2651.8,233.4 2654.8,230.8 2657.8,228.3 2660.8,225.8 2663.8,223.4 2666.8,221.1 2669.8,218.8 2672.8,216.5 2675.8,214.3 2678.8,212.2 2681.8,210.1 2684.8,208 2687.8,206 2690.8,204.1 2693.8,202.1 2696.8,200.3 2699.8,198.4 2702.8,196.6 2705.8,194.9 2708.8,193.2 2711.8,191.5 2714.8,189.8 2717.8,188.2 2720.8,186.7 2723.8,185.1 2726.8,183.6 2729.8,182.1 2732.8,180.6 2735.8,179.2 2738.8,177.8 2741.8,176.4 2744.8,175 2747.8,173.7 2750.8,172.4 2753.8,171 2756.8,169.8 2759.8,168.5 2762.8,167.2 2765.8,166 2768.8,164.7 2771.8,163.5 2774.8,162.3 2777.8,161.1 2780.8,159.9 2783.8,158.7 2786.8,157.6 2789.8,156.5 2792.8,155.3 2795.8,154.2 2798.8,153.1 2801.8,152 2804.8,151 2807.8,149.9 2810.8,148.8 2813.8,147.8 2816.8,146.8 2819.8,145.8 2822.8,144.8 2825.8,143.8 2828.8,142.9 2831.8,141.9 2834.8,141 2837.8,140 2840.8,139.1 2843.8,138.2 2846.8,137.3 2849.8,136.5 2852.8,135.6 2855.8,134.7 2858.8,133.9 2861.8,133.1 2864.8,132.3 2867.8,131.5 2870.8,130.7 2873.8,129.9 2876.8,129.1 2879.8,128.4 2882.8,127.6 2885.8,126.9 2888.8,126.2 2891.8,125.5 2894.8,124.7 2897.8,124.1 2900.8,123.4 2903.8,122.7 2906.8,122 2909.8,121.4 2912.8,120.7 2915.8,120.1 2918.8,119.5 2921.8,118.8 2924.8,118.2 2927.8,117.6 2930.8,117 2933.8,116.4 2936.8,115.9 2939.8,115.3 2942.8,114.7 2945.8,114.2 2948.8,113.6 2951.8,113.1 2954.8,112.5 2957.8,112 2960.8,111.5 2963.8,111 2966.8,110.4 2969.8,109.9 2972.8,109.4 2975.8,108.9 2978.8,108.5 2981.8,108 2984.8,107.5 2987.8,107 2990.8,106.6 2993.8,106.1 2996.8,105.6 2999.8,105.2 3002.8,104.7 3005.8,104.3 3008.8,103.8 3011.8,103.4 3014.8,103 3017.8,102.5 3020.8,102.1 3023.8,101.7 3026.8,101.2 3029.8,100.8 3032.8,100.4 3035.8,100 3038.8,99.6 3041.8,99.2 3044.8,98.7 3047.8,98.3 3050.8,97.9 3053.8,97.5 3056.8,97.1 3059.8,96.7 3062.8,96.3 3065.8,95.9 3068.8,95.5 3071.8,95.1 3074.8,94.7 3077.8,94.3 3080.8,93.9 3083.8,93.5 3086.8,93.1 3089.8,92.7 3092.8,92.3 3095.8,91.9 3098.8,91.5 3101.8,91.1 3104.8,90.7 3107.8,90.2 3110.8,89.8 3113.8,89.4 3116.8,89 3119.8,88.6 3122.8,88.2 3125.8,87.8 3128.8,87.4 3131.8,87 3134.8,86.7 3137.8,86.3 3140.8,85.9 3143.8,85.5 3146.8,85.1 3149.8,84.7 3152.8,84.3 3155.8,84 3158.8,83.6 3161.8,83.2 3164.8,82.9 3167.8,82.5 3170.8,82.2 3173.8,81.8 3176.8,81.5 3179.8,81.1 3182.8,80.8 3185.8,80.4 3188.8,80.1 3191.8,79.8 3194.8,79.5 3197.8,79.2 3200.8,78.9 3203.8,78.6 3206.8,78.3 3209.8,78 3212.8,77.7 3215.8,77.4 3218.8,77.2 3221.8,76.9 3224.8,76.7 3227.8,76.4 3230.8,76.2 3233.8,75.9 3236.8,75.7 3239.8,75.5 3242.8,75.3 3245.8,75.1 3248.8,74.9 3251.8,74.7 3254.8,74.6 3257.8,74.4 3260.8,74.3 3263.8,74.1 3266.8,74 3269.8,73.9 3272.8,73.7" fill="none" stroke="#f00" stroke-width="8.9" stroke-linejoin="round"/>
</g>
<text transform="translate(2271.8,995.8) scale(1,1.045)" font-size="51.5" text-anchor="middle">120</text>
<text transform="translate(2450.9,995.8) scale(1,1.045)" font-size="51.5" text-anchor="middle">130</text>
<text transform="translate(2630,995.8) scale(1,1.045)" font-size="51.5" text-anchor="middle">140</text>
<text transform="translate(2809.1,995.8) scale(1,1.045)" font-size="51.5" text-anchor="middle">150</text>
<text transform="translate(2988.2,995.8) scale(1,1.045)" font-size="51.5" text-anchor="middle">160</text>
<text transform="translate(3167.3,995.8) scale(1,1.045)" font-size="51.5" text-anchor="middle">170</text>
<text transform="translate(2569.3,1117) scale(1,1.045)" font-size="80">E<tspan font-size="48" dx="1" dy="26.5">c.m.</tspan><tspan dx="1.5" dy="-26.5"> (MeV)</tspan></text>
<text transform="translate(212.2,77.5) scale(1,1.045)" font-size="51.5" text-anchor="end">1000</text>
<text transform="translate(212.2,264) scale(1,1.045)" font-size="51.5" text-anchor="end">100</text>
<text transform="translate(212.2,450.5) scale(1,1.045)" font-size="51.5" text-anchor="end">10</text>
<text transform="translate(212.2,637) scale(1,1.045)" font-size="51.5" text-anchor="end">1</text>
<text transform="translate(212.2,823.5) scale(1,1.045)" font-size="51.5" text-anchor="end">0.1</text>
<g transform="translate(67.3,627) rotate(-90)">
<text transform="scale(1,0.93)" font-size="75">σ</text>
<text x="48.5" y="27.7" font-size="49.5">cap</text>
<text x="147.6" y="0" font-size="80" letter-spacing="2.2">(mb)</text>
</g>
<text transform="translate(272.8,129.6) scale(1,1.045)" font-size="80"><tspan font-size="47.3" dy="-37.1">28</tspan><tspan dy="37.1">Si+</tspan><tspan font-size="47.3" dy="-37.1">154</tspan><tspan dy="37.1">Sm</tspan></text>
<text transform="translate(1285.3,129.6) scale(1,1.045)" font-size="80"><tspan font-size="47.3" dy="-37.1">28</tspan><tspan dy="37.1">Si+</tspan><tspan font-size="47.3" dy="-37.1">208</tspan><tspan dy="37.1">Pb</tspan></text>
<text transform="translate(2326,138) scale(1,1.045)" font-size="80"><tspan font-size="47.3" dy="-37.1">30</tspan><tspan dy="37.1">Si+</tspan><tspan font-size="47.3" dy="-37.1">238</tspan><tspan dy="37.1">U</tspan></text>
<text transform="translate(1094,895) scale(1,1.03)" font-size="61">(a)</text>
<text transform="translate(2111.5,895) scale(1,1.03)" font-size="61">(b)</text>
<text transform="translate(3128.5,889) scale(1,1.03)" font-size="61">(c)</text>
<rect x="652.6" y="549.7" width="521" height="245" fill="#000"/>
<rect x="641.2" y="538.7" width="521.4" height="245.3" fill="#fff" stroke="#000" stroke-width="1.2"/>
<rect x="709.7" y="572.4" width="24" height="24" fill="#00f"/>
<line x1="652.5" y1="661.3" x2="791.5" y2="661.3" stroke="#f00" stroke-width="9" stroke-linecap="round"/>
<line x1="649.7" y1="740.3" x2="793.7" y2="740.3" stroke="#f0f" stroke-width="3.6"/>
<circle cx="721.7" cy="740.3" r="9.5" fill="#fff" stroke="#f0f" stroke-width="3.6"/>
<text transform="translate(809.5,605.3) scale(1,1.04)" font-size="60.5">exp.</text>
<text transform="translate(809.5,682.7) scale(1,1.04)" font-size="60.5">w/o</text>
<text transform="translate(937,682.7) scale(1,1.04)" font-size="60.5">PQ4NT</text>
<text transform="translate(809.5,761) scale(1,1.04)" font-size="60.5">with</text>
<text transform="translate(934.3,761) scale(1,1.04)" font-size="60.5">PQ4NT</text>
</svg>
</body></html>
